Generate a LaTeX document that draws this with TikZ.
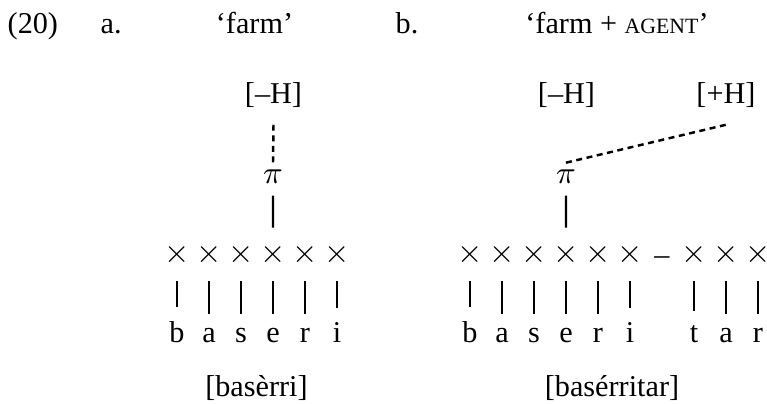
\documentclass[tikz,border=0pt]{standalone}
\usepackage{fontspec}
\setmainfont{Liberation Serif}
\usetikzlibrary{positioning}

\begin{document}
\begin{tikzpicture}[x=1cm,y=1cm,line cap=butt,
  txt/.style={font=\fontsize{8.6}{10}\selectfont,inner sep=0pt,anchor=base},
  seg/.style={txt},
  slot/.style={txt},
  assoc/.style={line width=0.65pt},
  float/.style={line width=0.7pt,dash pattern=on 1.7pt off 1.3pt},
  tobar/.style={line width=0.65pt,shorten <=0.15cm,shorten >=0.13cm}]
  \useasboundingbox (0,0) rectangle (7.67,4.03);

  % ===== example header =====
  \node[txt,anchor=base west] (num) at (0.07,3.70) {(20)};
  \node[txt,anchor=base west] (lba) at (1.00,3.70) {a.};
  \node[txt] (gla) at (2.545,3.70) {`farm'};
  \node[txt,anchor=base west] (lbb) at (3.95,3.70) {b.};
  \node[txt] (glb) at (6.17,3.70) {`farm + {\fontsize{6.2}{7}\selectfont AGENT}'};

  % ===== (a) basèrri =====
  \node[txt] (ha) at (2.735,3.00) {[--H]};
  \node[txt] (pa) at (2.73,2.20) {$\pi$};
  \foreach \i in {1,...,6}{
    \node[slot] (xa\i) at ({1.45+0.32*\i},1.41) {$\times$};
  }
  \foreach \l [count=\i] in {b,a,s,e,r,i}{
    \node[seg] (sa\i) at ({1.45+0.32*\i},0.61) {\l};
    \draw[tobar] (xa\i.south) -- (sa\i.north);
  }
  \draw[float] ([yshift=-0.17cm]ha.south) -- ([yshift=0.06cm]pa.north);
  \draw[assoc,shorten <=0.12cm,shorten >=0.15cm] (pa.south) -- (xa4.north);
  \node[txt] (fa) at (2.565,0.07) {[basèrri]};

  % ===== (b) basérritar =====
  \node[txt] (hb) at (5.665,3.00) {[--H]};
  \node[txt] (hp) at (7.26,3.00) {[+H]};
  \node[txt] (pb) at (5.66,2.20) {$\pi$};
  \foreach \i in {1,...,6,8,9,10}{
    \node[slot] (xb\i) at ({4.38+0.32*\i},1.41) {$\times$};
  }
  \node[txt] (bnd) at (6.62,1.39) {--};
  \foreach \l/\i in {b/1,a/2,s/3,e/4,r/5,i/6,t/8,a/9,r/10}{
    \node[seg] (sb\i) at ({4.38+0.32*\i},0.61) {\l};
    \draw[tobar] (xb\i.south) -- (sb\i.north);
  }
  \draw[float] ([yshift=0.06cm]pb.north) -- ([yshift=-0.17cm]hp.south);
  \draw[assoc,shorten <=0.12cm,shorten >=0.15cm] (pb.south) -- (xb4.north);
  \node[txt] (fb) at (6.12,0.07) {[basérritar]};
\end{tikzpicture}
\end{document}
